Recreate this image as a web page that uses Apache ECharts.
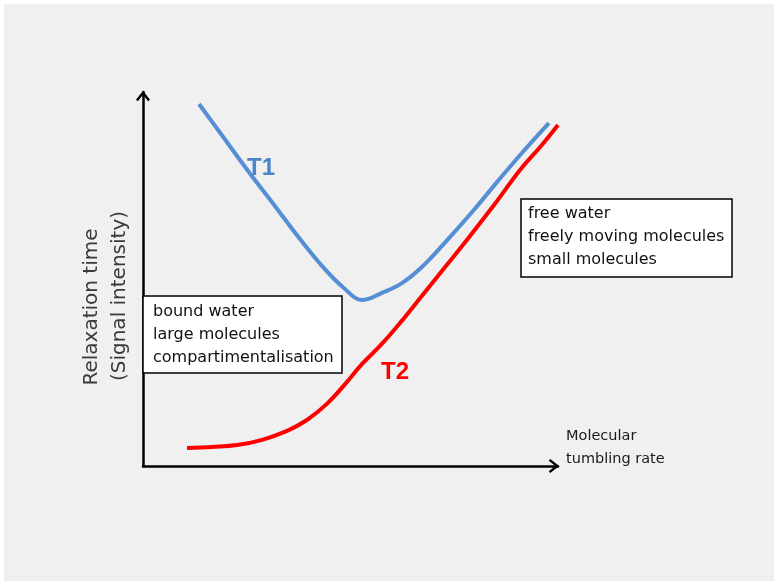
<!DOCTYPE html>
<html>
<head>
<meta charset="utf-8">
<script src="https://cdn.jsdelivr.net/npm/echarts@6/dist/echarts.min.js"></script>
<style>
  html, body { margin: 0; padding: 0; background: #ffffff; }
  #bg { position: absolute; left: 4px; top: 4px; width: 770px; height: 577px; background: #f0f0f0; }
  #chart { position: absolute; left: 0; top: 0; width: 774px; height: 582px; }
</style>
</head>
<body>
<div id="bg"></div>
<div id="chart"></div>
<script>
// Molecular tumbling rate (arbitrary units 0-100)
const t1Rate = [13.5, 19.5, 25.5, 31.6, 37.6, 43.6, 48.4, 52.8, 57.6, 62.4, 67.2, 73.3, 79.3, 85.3, 91.3, 97.8];
// T1 relaxation time (arbitrary units 0-100)
const t1Time = [96.8, 87.7, 78.6, 69.8, 61.0, 52.9, 47.6, 44.4, 46.3, 48.9, 53.2, 60.4, 67.9, 75.9, 83.7, 91.7];
const t2Rate = [10.6, 16.6, 22.7, 28.7, 34.7, 39.5, 44.3, 48.7, 52.8, 57.1, 61.9, 66.8, 72.8, 78.8, 84.8, 90.8, 95.7, 100.0];
// T2 relaxation time (arbitrary units 0-100)
const t2Time = [4.8, 5.1, 5.6, 7.0, 9.4, 12.3, 16.6, 21.9, 27.3, 32.1, 38.2, 44.9, 53.2, 61.5, 70.1, 79.1, 85.3, 91.2];

const seriesNames = ['T1', 'T2'];
const leftBoxLines = ['bound water', 'large molecules', 'compartimentalisation'];
const rightBoxLines = ['free water', 'freely moving molecules', 'small molecules'];
const yAxisTitle = ['Relaxation time', '(Signal intensity)'];
const xAxisTitle = ['Molecular', 'tumbling rate'];

const t1Data = t1Rate.map((x, i) => [x, t1Time[i]]);
const t2Data = t2Rate.map((x, i) => [x, t2Time[i]]);

const arrow = 'path://M0,9 L7,0 L14,9 L12.2,10.5 L7,4 L1.8,10.5 Z';
const axisCommon = {
  type: 'value', min: 0, max: 100,
  axisLine: { show: true, symbol: ['none', arrow], symbolSize: [14, 10.5], symbolOffset: [0, -4],
    lineStyle: { color: '#000', width: 2.5 } },
  axisTick: { show: false }, axisLabel: { show: false }, splitLine: { show: false }
};

const chart = echarts.init(document.getElementById('chart'), null, { renderer: 'canvas' });
chart.setOption({
  backgroundColor: 'transparent',
  animation: false,
  grid: { left: 143, right: 216, top: 92, bottom: 116 },
  xAxis: Object.assign({}, axisCommon),
  yAxis: Object.assign({}, axisCommon),
  series: [
    { name: seriesNames[0], type: 'line', data: t1Data, smooth: 0.4, symbol: 'none',
      lineStyle: { color: '#558ed5', width: 4 }, z: 3 },
    { name: seriesNames[1], type: 'line', data: t2Data, smooth: 0.4, symbol: 'none',
      lineStyle: { color: '#ff0000', width: 4 }, z: 3 }
  ],
  graphic: [
    { type: 'rect', shape: { x: 143, y: 296, width: 199, height: 77 },
      style: { fill: '#ffffff', stroke: '#000000', lineWidth: 1.5 }, z: 10 },
    { type: 'text', x: 153, y: 300, z: 11,
      style: { text: leftBoxLines.join('\n'), font: '16px "DejaVu Sans"', fill: '#111', lineHeight: 23, verticalAlign: 'top' } },
    { type: 'rect', shape: { x: 521, y: 199, width: 211, height: 78 },
      style: { fill: '#ffffff', stroke: '#000000', lineWidth: 1.5 }, z: 10 },
    { type: 'text', x: 528, y: 202, z: 11,
      style: { text: rightBoxLines.join('\n'), font: '16px "DejaVu Sans"', fill: '#111', lineHeight: 23, verticalAlign: 'top' } },
    { type: 'text', x: 261, y: 168, z: 11,
      style: { text: seriesNames[0], font: 'bold 24px "Liberation Sans"', fill: '#4a85cc', align: 'center', verticalAlign: 'middle' } },
    { type: 'text', x: 395, y: 372, z: 11,
      style: { text: seriesNames[1], font: 'bold 24px "Liberation Sans"', fill: '#ff0000', align: 'center', verticalAlign: 'middle' } },
    { type: 'text', x: 92, y: 307, rotation: Math.PI / 2, z: 11,
      style: { text: yAxisTitle[0], font: '20px "DejaVu Sans"', fill: '#3a3a3a', align: 'center', verticalAlign: 'middle' } },
    { type: 'text', x: 120, y: 296, rotation: Math.PI / 2, z: 11,
      style: { text: yAxisTitle[1], font: '20px "DejaVu Sans"', fill: '#3a3a3a', align: 'center', verticalAlign: 'middle' } },
    { type: 'text', x: 566, y: 425, z: 11,
      style: { text: xAxisTitle.join('\n'), font: '14.5px "DejaVu Sans"', fill: '#1a1a1a', lineHeight: 23, verticalAlign: 'top' } }
  ]
});
</script>
</body>
</html>
